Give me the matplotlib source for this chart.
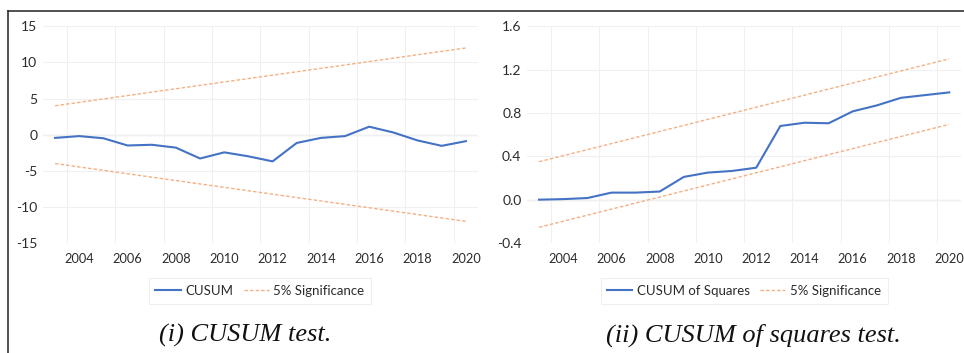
import matplotlib
matplotlib.use("Agg")
import matplotlib.pyplot as plt
from matplotlib.lines import Line2D

# data
years = [2003, 2004, 2005, 2006, 2007, 2008, 2009, 2010, 2011,
         2012, 2013, 2014, 2015, 2016, 2017, 2018, 2019, 2020]
cusum = [-0.45, -0.2, -0.5, -1.5, -1.4, -1.8, -3.3, -2.45, -3.0,
         -3.7, -1.15, -0.45, -0.2, 1.1, 0.3, -0.8, -1.55, -0.9]
cusum_sq = [0.0, 0.005, 0.015, 0.065, 0.065, 0.075, 0.21, 0.25, 0.265,
            0.295, 0.68, 0.71, 0.705, 0.815, 0.87, 0.94, 0.965, 0.99]

# 5% significance bounds (straight lines, start and end year)
bound_years = [2003, 2020]
cusum_upper = [4.0, 12.0]
cusum_lower = [-4.0, -12.0]
sq_upper = [0.35, 1.3]
sq_lower = [-0.255, 0.695]

xticks = [2004, 2006, 2008, 2010, 2012, 2014, 2016, 2018, 2020]

plt.rcParams['font.family'] = ['Lato', 'DejaVu Sans']

BLUE = '#4472C4'
ORANGE = '#F4B183'
TXT = '#2b2b2b'

fig = plt.figure(figsize=(9.64, 3.53), dpi=100)
fig.patch.set_facecolor('white')


def style_axes(ax, ylim, yticks, yfmt):
	ax.set_xlim(2002.5, 2020.5)
	ax.set_ylim(*ylim)
	ax.set_xticks(xticks)
	ax.set_xticklabels([str(x) for x in xticks])
	ax.set_xticks([2003.5 + 2 * k for k in range(9)], minor=True)
	ax.set_yticks(yticks)
	ax.set_yticklabels([yfmt % v for v in yticks])
	ax.grid(False)
	ax.grid(True, which='minor', axis='x', color='#f0f0f0', lw=0.8)
	ax.grid(True, which='major', axis='y', color='#f0f0f0', lw=0.8)
	ax.axhline(0, color='#d9d9d9', lw=0.9, zorder=1)
	for s in ax.spines.values():
		s.set_visible(False)
	ax.tick_params(which='both', length=0)
	ax.tick_params(axis='x', pad=7, labelsize=9.2, labelcolor=TXT)
	ax.tick_params(axis='y', pad=4, labelsize=10, labelcolor=TXT)


ax1 = fig.add_axes([0.0446, 0.3116, 0.4512, 0.6139])
ax1.plot(years, cusum, color=BLUE, lw=1.5, label='CUSUM', zorder=3)
ax1.plot(bound_years, cusum_upper, color=ORANGE, lw=1.0, ls=(0, (2.5, 1.5)), label='5% Significance', zorder=2)
ax1.plot(bound_years, cusum_lower, color=ORANGE, lw=1.0, ls=(0, (2.5, 1.5)), zorder=2)
style_axes(ax1, (-15, 15), [-15, -10, -5, 0, 5, 10, 15], '%d')

ax2 = fig.add_axes([0.5467, 0.3116, 0.4505, 0.6139])
ax2.plot(years, cusum_sq, color=BLUE, lw=1.5, label='CUSUM of Squares', zorder=3)
ax2.plot(bound_years, sq_upper, color=ORANGE, lw=1.0, ls=(0, (2.5, 1.5)), label='5% Significance', zorder=2)
ax2.plot(bound_years, sq_lower, color=ORANGE, lw=1.0, ls=(0, (2.5, 1.5)), zorder=2)
style_axes(ax2, (-0.4, 1.6), [-0.4, 0.0, 0.4, 0.8, 1.2, 1.6], '%.1f')

for ax, cx in ((ax1, 0.2697), (ax2, 0.772)):
	leg = ax.legend(loc='center', bbox_to_anchor=(cx, 0.1756), bbox_transform=fig.transFigure,
		ncol=2, fontsize=9.5, frameon=True, fancybox=False, handlelength=1.9,
		columnspacing=0.8, handletextpad=0.35, borderpad=0.5)
	leg.get_frame().set_edgecolor('#ececec')
	leg.get_frame().set_linewidth(0.8)
	for t in leg.get_texts():
		t.set_color(TXT)

fig.text(0.254, 0.051, '(i) CUSUM test.', ha='center', va='center',
	family='Liberation Serif', style='italic', fontsize=19, color='#111111')
fig.text(0.782, 0.051, '(ii) CUSUM of squares test.', ha='center', va='center',
	family='Liberation Serif', style='italic', fontsize=19, color='#111111')

# outer frame lines of the cropped figure
fig.add_artist(Line2D([0.0083, 1.0], [0.969, 0.969], transform=fig.transFigure, color='#222222', lw=1.1))
fig.add_artist(Line2D([0.0083, 0.0083], [0.0, 0.969], transform=fig.transFigure, color='#222222', lw=1.1))

fig.savefig('out.png', dpi=100, facecolor='white')
